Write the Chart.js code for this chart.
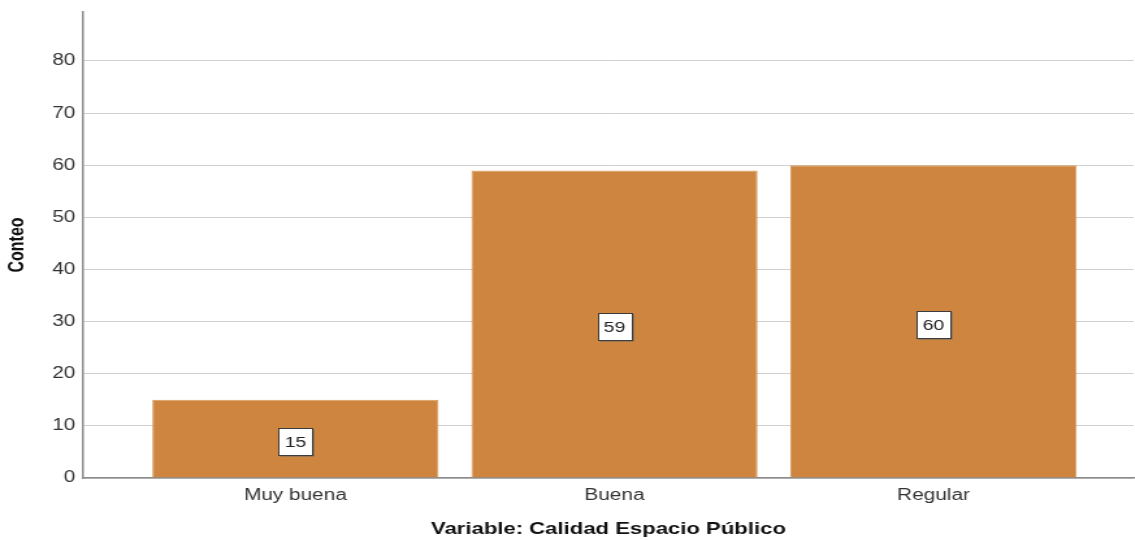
<!DOCTYPE html>
<html>
<head>
<meta charset="utf-8">
<script src="https://cdn.jsdelivr.net/npm/chart.js@4.4.1/dist/chart.umd.min.js"></script>
<style>
html, body { margin: 0; padding: 0; background: #fff; overflow: hidden; }
/* the original export is stretched sideways, so draw narrow and widen */
#wrap { position: relative; width: 873px; height: 540px; transform: scaleX(1.3); transform-origin: 0 0; }
</style>
</head>
<body>
<div id="wrap"><canvas id="chart"></canvas></div>
<script>
var categories = ["Muy buena", "Buena", "Regular"];
var counts = [15, 59, 60];
var yTicks = [0, 10, 20, 30, 40, 50, 60, 70, 80];
var xTitle = "Variable: Calidad Espacio Público";
var yTitle = "Conteo";

var fontFamily = '"Liberation Sans", Arial, Helvetica, sans-serif';

// white boxes with the count in the middle of each bar
var valueBoxes = {
    id: 'valueBoxes',
    afterDatasetsDraw: function(chart) {
        var ctx = chart.ctx;
        var meta = chart.getDatasetMeta(0);
        ctx.save();
        ctx.font = '15px ' + fontFamily;
        ctx.textAlign = 'center';
        ctx.textBaseline = 'middle';
        meta.data.forEach(function(bar, i) {
            var cx = bar.x;
            var cy = (bar.y + bar.base) / 2 + 3;
            var w = 26, h = 27;
            var x0 = Math.round(cx - w / 2) + 0.5;
            var y0 = Math.round(cy - h / 2) + 0.5;
            ctx.fillStyle = '#6a6a6a';
            ctx.fillRect(x0 + 1, y0 + 1, w, h);  // shadow
            ctx.fillStyle = '#ffffff';
            ctx.fillRect(x0, y0, w, h);
            ctx.strokeStyle = '#3c3c3c';
            ctx.lineWidth = 1;
            ctx.strokeRect(x0, y0, w, h);
            ctx.fillStyle = '#222';
            ctx.fillText(String(counts[i]), cx, cy + 1);
        });
        ctx.restore();
    }
};

new Chart(document.getElementById('chart'), {
    type: 'bar',
    data: {
        datasets: [{
            data: categories.map(function(c, i) { return { x: i, y: counts[i] }; }),
            backgroundColor: '#cd853f',
            borderColor: '#d99a5e',
            borderWidth: 1,
            barPercentage: 0.897,
            categoryPercentage: 1
        }]
    },
    options: {
        responsive: true,
        maintainAspectRatio: false,
        animation: false,
        layout: { padding: { left: 4, right: 1, top: 12, bottom: 0 } },
        plugins: {
            legend: { display: false },
            tooltip: { enabled: false }
        },
        scales: {
            x: {
                type: 'linear',
                offset: false,
                min: -0.665,
                max: 2.627,
                afterBuildTicks: function(scale) {
                    scale.ticks = categories.map(function(c, i) { return { value: i }; });
                },
                afterFit: function(scale) { scale.height = 62; },
                ticks: {
                    callback: function(v) { return categories[v]; },
                    padding: 8,
                    color: '#333',
                    maxRotation: 0,
                    autoSkip: false,
                    font: { family: fontFamily, size: 16 }
                },
                grid: { display: false, drawTicks: false },
                border: { color: '#8c8c8c', width: 1.5 },
                title: {
                    display: true,
                    text: xTitle,
                    color: '#111',
                    padding: { top: 18, bottom: 0 },
                    font: { family: fontFamily, size: 17, weight: 'bold' }
                }
            },
            y: {
                min: 0,
                max: 89.4,
                afterBuildTicks: function(scale) {
                    scale.ticks = yTicks.map(function(v) { return { value: v }; });
                },
                afterFit: function(scale) {
                    scale.width = 60;
                    scale.paddingTop = 0;
                    scale.paddingBottom = 0;
                },
                ticks: {
                    padding: 6,
                    color: '#333',
                    font: { family: fontFamily, size: 16 }
                },
                grid: { color: '#d0d0d0', drawTicks: false },
                border: { color: '#8c8c8c', width: 1.5 },
                title: {
                    display: true,
                    text: yTitle,
                    color: '#111',
                    padding: { top: 0, bottom: 0 },
                    font: { family: fontFamily, size: 16, weight: 'bold' }
                }
            }
        }
    },
    plugins: [valueBoxes]
});
</script>
</body>
</html>
